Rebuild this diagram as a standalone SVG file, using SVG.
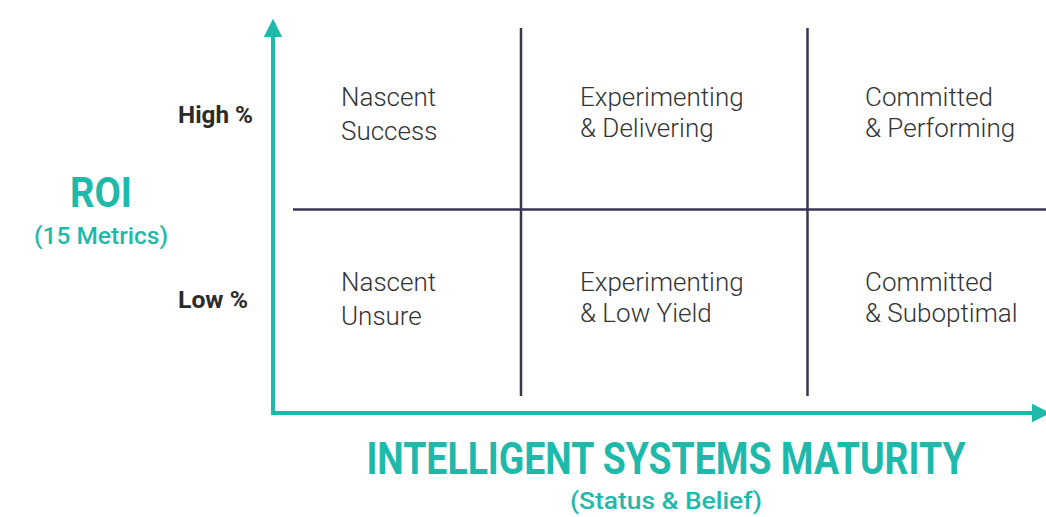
<svg xmlns="http://www.w3.org/2000/svg" width="1046" height="517" viewBox="0 0 1046 517">
<style>
.cell{font-family:Roboto,"Liberation Sans",sans-serif;font-weight:300;font-size:26px;fill:#333333}
.lvl{font-family:Roboto,"Liberation Sans",sans-serif;font-weight:700;font-size:24px;fill:#2b2b2b}
.teal{font-family:Roboto,"Liberation Sans",sans-serif;fill:#1fb9ab}
.axis{stroke:#1fb9ab;stroke-width:4;fill:none}
.grid{stroke:#3a3550;stroke-width:2.5;fill:none}
</style>
<defs>
<marker id="ah" viewBox="0 0 10 10" refX="0" refY="5" markerWidth="4.6" markerHeight="5" orient="auto" markerUnits="strokeWidth">
<path d="M0,0 L10,5 L0,10 Z" fill="#1fb9ab"/>
</marker>
</defs>
<g id="connectors">
<line class="axis" x1="273" y1="415" x2="273" y2="37" marker-end="url(#ah)"/>
<line class="axis" x1="271" y1="413" x2="1032" y2="413" marker-end="url(#ah)"/>
<line class="grid" x1="293" y1="209.5" x2="1046" y2="209.5"/>
<line class="grid" x1="521" y1="28" x2="521" y2="396"/>
<line class="grid" x1="807.5" y1="28" x2="807.5" y2="396"/>
</g>
<g id="y-axis-label">
<text class="teal" x="101" y="207" text-anchor="middle" font-size="42" font-weight="700" textLength="62" lengthAdjust="spacingAndGlyphs">ROI</text>
<text class="teal" x="101" y="244" text-anchor="middle" font-size="24" font-weight="500" textLength="134" lengthAdjust="spacingAndGlyphs">(15 Metrics)</text>
</g>
<g id="y-levels">
<text class="lvl" x="178" y="123" textLength="75" lengthAdjust="spacingAndGlyphs">High %</text>
<text class="lvl" x="178" y="308" textLength="70" lengthAdjust="spacingAndGlyphs">Low %</text>
</g>
<g id="x-axis-label">
<text class="teal" transform="translate(666,474) scale(0.85,1)" x="0" y="0" text-anchor="middle" font-size="44" font-weight="700">INTELLIGENT SYSTEMS MATURITY</text>
<text class="teal" x="666" y="509" text-anchor="middle" font-size="24" font-weight="500" textLength="192" lengthAdjust="spacingAndGlyphs">(Status &amp; Belief)</text>
</g>
<g id="cell-nascent-success">
<text class="cell" x="341" y="106">Nascent</text>
<text class="cell" x="341" y="140">Success</text>
</g>
<g id="cell-experimenting-delivering">
<text class="cell" x="580" y="106">Experimenting</text>
<text class="cell" x="580" y="137">&amp; Delivering</text>
</g>
<g id="cell-committed-performing">
<text class="cell" x="865" y="106">Committed</text>
<text class="cell" x="865" y="137">&amp; Performing</text>
</g>
<g id="cell-nascent-unsure">
<text class="cell" x="341" y="291">Nascent</text>
<text class="cell" x="341" y="325">Unsure</text>
</g>
<g id="cell-experimenting-lowyield">
<text class="cell" x="580" y="291">Experimenting</text>
<text class="cell" x="580" y="322">&amp; Low Yield</text>
</g>
<g id="cell-committed-suboptimal">
<text class="cell" x="865" y="291">Committed</text>
<text class="cell" x="865" y="322">&amp; Suboptimal</text>
</g>
</svg>
